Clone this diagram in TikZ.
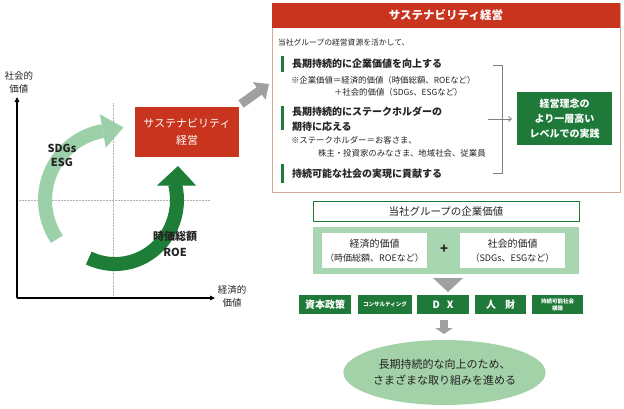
\documentclass[tikz,border=0pt]{standalone}
\usepackage{fontspec}
\setmainfont{Noto Sans CJK JP}
\usetikzlibrary{arrows.meta,shapes.geometric}
\definecolor{hdrred}{RGB}{200,52,30}
\definecolor{framec}{RGB}{212,168,150}
\definecolor{dgreen}{RGB}{31,122,58}
\definecolor{lgreen}{RGB}{168,214,176}
\definecolor{arcl}{RGB}{155,208,168}
\definecolor{arcd}{RGB}{30,125,55}
\definecolor{grayA}{RGB}{160,160,160}
\definecolor{ellc}{RGB}{163,210,168}
\definecolor{txt}{RGB}{35,35,35}
\newcommand\fsz[2]{\fontsize{#1}{#2}\selectfont}
\begin{document}
\begin{tikzpicture}[x=1pt,y=-1pt,
  every node/.style={inner sep=0pt,outer sep=0pt,text=txt},
  axisline/.style={line width=1.1pt,black,-{Triangle[length=5pt,width=4.5pt]}},
  gridline/.style={gray!60,line width=0.5pt,densely dotted},
  axlabel/.style={align=center,font=\fsz{9.5}{13}},
  redbox/.style={fill=hdrred,text=white,align=center,font=\fsz{11}{17}},
  bodyline/.style={anchor=west,font=\bfseries\fsz{10}{13}},
  noteline/.style={anchor=west,font=\fsz{8.4}{11}},
  gbar/.style={dgreen,line width=3pt},
  gbox/.style={fill=dgreen,text=white,align=center,font=\bfseries\fsz{10}{15}},
  rowbox/.style={fill=dgreen,text=white,align=center,minimum height=19pt,font=\bfseries\fsz{10}{12}},
  tinybox/.style={rowbox,font=\bfseries\fsz{5.5}{7}},
  wbox/.style={fill=white,align=center,minimum width=105pt,minimum height=35pt,font=\fsz{10}{14}}
]
\useasboundingbox (0,0) rectangle (624,408);

% ---------- left chart ----------
\coordinate (O) at (17,298);
\coordinate (ytop) at (17,97);
\coordinate (xend) at (215,298);
\draw[gridline] (113,103) -- (113,298);
\draw[gridline] (17,200) -- (210,200);
\draw[axisline] (O) -- (ytop);
\draw[axisline] (O) -- (xend);
\node[axlabel] (ylab) at (19,82) {社会的\\価値};
\node[axlabel] (xlab) at (232,296) {経済的\\価値};

% light arc (SDGs/ESG)
\draw[arcl,line width=14pt] (115,200) ++(146:70) arc (146:260:70);
\fill[arcl] (99.9,114.3) -- (123.5,127.4) -- (105.8,147.8) -- cycle;
% dark arc (market cap/ROE)
\draw[arcd,line width=14pt] (115,200) ++(115:62 and 64) arc (115:-14:62 and 64);
\fill[arcd] (157,185.5) -- (178,166) -- (196,185.5) -- cycle;

\node[font=\bfseries\fsz{11}{14},align=center] (sdg) at (62,155) {SDGs\\ESG};
\node[font=\bfseries\fsz{11}{16},align=center] (mcap) at (175,244) {時価総額\\ROE};

\node[redbox,minimum width=104pt,minimum height=50pt] (rb) at (187,132) {サステナビリティ\\経営};

% gray arrow to top box
\coordinate (ga1) at (241,104);
\coordinate (ga2) at (269,84);
\draw[grayA,line width=9pt,-{Triangle[length=12pt,width=21pt]}] (ga1) -- (ga2);

% ---------- top right box ----------
\node[draw=framec,line width=1pt,minimum width=348pt,minimum height=189pt] (sbox) at (446,97.5) {};
\node[fill=hdrred,minimum width=348pt,minimum height=25pt,text=white,font=\bfseries\fsz{11.5}{14}] (shdr) at (446,15.5) {サステナビリティ経営};

\node[anchor=west,font=\fsz{7.8}{10}] (t0) at (278,43) {当社グループの経営資源を活かして、};

\draw[gbar] (282,56) -- (282,72);
\node[bodyline] (b1) at (292,64) {長期持続的に企業価値を向上する};
\node[noteline] (n1a) at (291,80) {※企業価値＝経済的価値（時価総額、ROEなど）};
\node[noteline] (n1b) at (334,92) {＋社会的価値（SDGs、ESGなど）};

\draw[gbar] (282,106) -- (282,130);
\node[bodyline] (b2a) at (292,112) {長期持続的にステークホルダーの};
\node[bodyline] (b2b) at (292,127) {期待に応える};
\node[noteline] (n2a) at (291,140) {※ステークホルダー＝お客さま、};
\node[noteline] (n2b) at (318,153) {株主・投資家のみなさま、地域社会、従業員};

\draw[gbar] (282,164) -- (282,183);
\node[bodyline] (b3) at (292,174) {持続可能な社会の実現に貢献する};

% bracket and arrow
\coordinate (bk1) at (493,65);
\coordinate (bk2) at (502,65);
\coordinate (bk3) at (502,173);
\coordinate (bk4) at (493,173);
\draw[gray,line width=0.8pt] (bk1) -- (bk2) -- (bk3) -- (bk4);
\node[gbox,minimum width=95pt,minimum height=53pt] (goal) at (564.5,118.5) {経営理念の\\より一層高い\\レベルでの実践};
\coordinate (bkarr) at (488,119);
\coordinate (bkend) at (512,119);
\draw[gray,line width=0.8pt,-{Straight Barb[length=3pt,width=5pt]}] (bkarr) -- (bkend);

% ---------- bottom right ----------
\node[draw=dgreen,line width=0.9pt,fill=white,minimum width=266pt,minimum height=20pt,font=\fsz{10.5}{13}] (cv) at (446,211) {当社グループの企業価値};
\node[fill=lgreen,minimum width=266pt,minimum height=47pt] (cont) at (446,250.5) {};
\node[wbox] (ev) at (374.5,250.5) {経済的価値\\{\fsz{9}{12}（時価総額、ROEなど）}};
\node[wbox] (sv) at (512.5,250.5) {社会的価値\\{\fsz{9}{12}（SDGs、ESGなど）}};
\node[font=\bfseries\fsz{13}{14}] (plus) at (444,249) {+};

\coordinate (tri1) at (433,278);
\coordinate (tri2) at (463,278);
\coordinate (tri3) at (448,292);
\fill[grayA] (tri1) -- (tri2) -- (tri3) -- cycle;

\node[rowbox,minimum width=52pt] (r1) at (325,304.5) {資本政策};
\node[tinybox,minimum width=54pt] (r2) at (385,304.5) {コンサルティング};
\node[rowbox,minimum width=52pt] (r3) at (443,304.5) {D\hspace{7pt}X};
\node[rowbox,minimum width=51pt] (r4) at (500.5,304.5) {人\hspace{9pt}財};
\node[tinybox,minimum width=51pt] (r5) at (557.5,304.5) {持続可能社会\\構築};

\node[ellipse,fill=ellc,minimum width=173pt,minimum height=65pt,align=center,font=\fsz{11}{16}] (fin) at (444.5,372.5) {長期持続的な向上のため、\\さまざまな取り組みを進める};
\coordinate (da1) at (444,320);
\coordinate (da2) at (444,334);
\draw[grayA,line width=8pt,-{Triangle[length=6pt,width=17pt]}] (da1) -- (da2);
\end{tikzpicture}
\end{document}
